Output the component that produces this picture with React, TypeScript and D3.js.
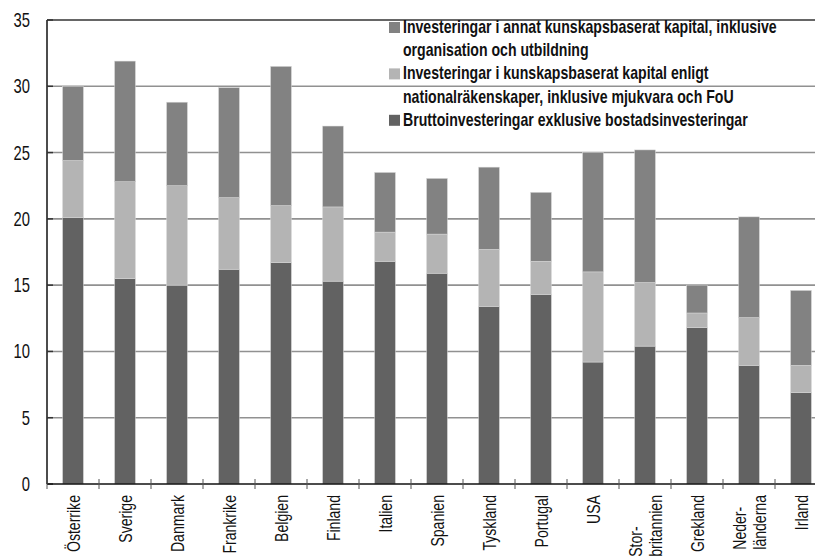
import React, { useEffect, useRef } from "react";
import * as d3 from "d3";

const categories: string[][] = [
  ["Österrike"], ["Sverige"], ["Danmark"], ["Frankrike"], ["Belgien"], ["Finland"],
  ["Italien"], ["Spanien"], ["Tyskland"], ["Portugal"], ["USA"], ["Stor-", "britannien"],
  ["Grekland"], ["Neder-", "länderna"], ["Irland"],
];
const grossInvestment = [20.1, 15.5, 15.0, 16.2, 16.7, 15.3, 16.8, 15.9, 13.4, 14.3, 9.2, 10.4, 11.8, 8.95, 6.9];
const knowledgeNational = [4.3, 7.3, 7.5, 5.4, 4.3, 5.6, 2.2, 2.95, 4.3, 2.5, 6.8, 4.8, 1.1, 3.6, 2.05];
const knowledgeOther = [5.6, 9.1, 6.3, 8.3, 10.5, 6.1, 4.5, 4.2, 6.2, 5.2, 9.0, 10.0, 2.1, 7.6, 5.65];
const yTicks = [0, 5, 10, 15, 20, 25, 30, 35];
const seriesNames = ["grossInvestment", "knowledgeNational", "knowledgeOther"];
const seriesColors = ["#626262", "#b4b4b4", "#828282"];
const legendEntries = [
  { color: "#828282", lines: ["Investeringar i annat kunskapsbaserat kapital, inklusive", "organisation och utbildning"] },
  { color: "#b4b4b4", lines: ["Investeringar i kunskapsbaserat kapital enligt", "nationalräkenskaper, inklusive mjukvara och FoU"] },
  { color: "#626262", lines: ["Bruttoinvesteringar exklusive bostadsinvesteringar"] },
];

const FONT = "'Liberation Sans', Arial, sans-serif";
const NARROW = 0.74;

export default function App() {
  const ref = useRef<SVGSVGElement | null>(null);

  useEffect(() => {
    document.body.style.margin = "0";
    const svg = d3.select(ref.current);
    svg.selectAll("*").remove();

    const W = 815;
    const left = 47, right = 827, top = 20, bottom = 484;

    const x = d3.scaleBand<number>()
      .domain(d3.range(categories.length))
      .range([left, right])
      .paddingInner(0.6)
      .paddingOuter(0.3);
    const y = d3.scaleLinear().domain([0, 35]).range([bottom, top]);

    const rows = categories.map((c, i) => ({
      i,
      grossInvestment: grossInvestment[i],
      knowledgeNational: knowledgeNational[i],
      knowledgeOther: knowledgeOther[i],
    }));
    const stacked = d3.stack<any>().keys(seriesNames)(rows);

    // gridlines
    svg.append("g").selectAll("line")
      .data(yTicks.filter((t) => t > 0 && t < 35))
      .join("line")
      .attr("x1", left).attr("x2", W)
      .attr("y1", (d) => y(d)).attr("y2", (d) => y(d))
      .attr("stroke", "#919191").attr("stroke-width", 1.6);

    // top line
    svg.append("line")
      .attr("x1", left).attr("x2", W).attr("y1", y(35)).attr("y2", y(35))
      .attr("stroke", "#333").attr("stroke-width", 1.3);

    // bars
    svg.append("g").selectAll("g")
      .data(stacked)
      .join("g")
      .attr("fill", (_d, k) => seriesColors[k])
      .selectAll("rect")
      .data((d) => d)
      .join("rect")
      .attr("x", (d: any) => x(d.data.i)!)
      .attr("width", x.bandwidth())
      .attr("y", (d: any) => y(d[1]))
      .attr("height", (d: any) => y(d[0]) - y(d[1]))
      .attr("stroke", "#d8d8d8")
      .attr("stroke-width", 0.5);

    // y axis
    svg.append("line")
      .attr("x1", left).attr("x2", left).attr("y1", y(35)).attr("y2", bottom)
      .attr("stroke", "#111").attr("stroke-width", 1.5);
    svg.append("g").selectAll("line")
      .data(yTicks)
      .join("line")
      .attr("x1", left).attr("x2", left + 6)
      .attr("y1", (d) => y(d)).attr("y2", (d) => y(d))
      .attr("stroke", "#333").attr("stroke-width", 1.5);
    svg.append("g").selectAll("text")
      .data(yTicks)
      .join("text")
      .attr("transform", (d) => `translate(30,${y(d)}) scale(${NARROW},1)`)
      .attr("dy", "0.35em")
      .attr("text-anchor", "end")
      .attr("font-family", FONT)
      .attr("font-size", 20)
      .attr("fill", "#111")
      .text((d) => String(d));

    // x axis
    svg.append("line")
      .attr("x1", left).attr("x2", W).attr("y1", bottom).attr("y2", bottom)
      .attr("stroke", "#111").attr("stroke-width", 1.5);
    const step = x.step();
    svg.append("g").selectAll("line")
      .data(d3.range(categories.length + 1))
      .join("line")
      .attr("x1", (i) => left + i * step).attr("x2", (i) => left + i * step)
      .attr("y1", bottom - 5).attr("y2", bottom + 5)
      .attr("stroke", "#555").attr("stroke-width", 1);

    // x labels (rotated, left-aligned lines, block top at labelTop)
    const labelTop = 495;
    const lineGap = 20;
    categories.forEach((lines, i) => {
      const cx = x(i)! + x.bandwidth() / 2;
      const g = svg.append("g");
      const texts = lines.map((ln, j) => {
        const off = (j - (lines.length - 1) / 2) * lineGap;
        return g.append("text")
          .attr("font-family", FONT)
          .attr("font-size", 19)
          .attr("fill", "#111")
          .attr("text-anchor", "start")
          .attr("dy", "0.35em")
          .text(ln)
          .datum(off);
      });
      const lens = texts.map((t) => (t.node() as SVGTextElement).getComputedTextLength() * NARROW);
      const maxLen = Math.max(...lens);
      const startY = labelTop + maxLen;
      texts.forEach((t) => {
        const off = t.datum() as number;
        t.attr("transform", `translate(${cx + off},${startY}) rotate(-90) scale(${NARROW},1)`);
      });
    });

    // legend
    const lg = svg.append("g");
    const lineH = 23.2;
    const textX = 403;
    let ln = 0;
    const legendTexts: any[] = [];
    legendEntries.forEach((e) => {
      const base = 33 + ln * lineH;
      lg.append("rect")
        .attr("x", 389).attr("y", base - 11)
        .attr("width", 11).attr("height", 11)
        .attr("fill", e.color);
      e.lines.forEach((t, j) => {
        const txt = lg.append("text")
          .attr("font-family", FONT)
          .attr("font-size", 18.5)
          .attr("font-weight", "bold")
          .attr("fill", "#111")
          .text(t)
          .datum(33 + (ln + j) * lineH);
        legendTexts.push(txt);
      });
      ln += e.lines.length;
    });
    const firstLen = (legendTexts[0].node() as SVGTextElement).getComputedTextLength();
    const sx = 374 / firstLen;
    legendTexts.forEach((t) => {
      t.attr("transform", `translate(${textX},${t.datum()}) scale(${sx},1)`);
    });
  }, []);

  return (
    <svg ref={ref} width={815} height={556} style={{ display: "block", overflow: "hidden", background: "#fff" }} />
  );
}
